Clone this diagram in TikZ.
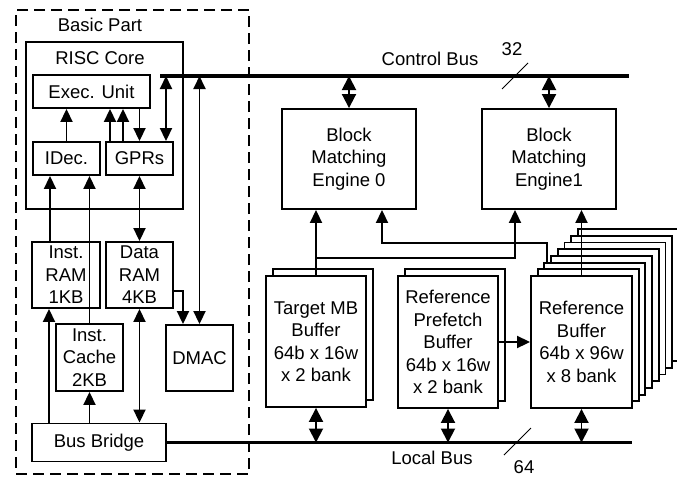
\documentclass[tikz,border=0pt]{standalone}
\usepackage{fontspec}
\setmainfont{Liberation Sans}
\usetikzlibrary{arrows.meta}
\begin{document}
\begin{tikzpicture}[x=1pt,y=-1pt,
  lbl/.style={font=\fontsize{18.5}{22.5}\selectfont, inner sep=0pt, align=center},
  box/.style={lbl, draw, line width=1.9pt, fill=white},
  layer/.style={draw, line width=1.9pt, fill=white, inner sep=0pt},
  dashbox/.style={draw, line width=1.9pt, dash pattern=on 11pt off 6pt, inner sep=0pt},
  conn/.style={line width=1.9pt},
  arr/.style={conn, -{Triangle[length=13pt,width=12pt]}},
  darr/.style={conn, {Triangle[length=13pt,width=12pt]}-{Triangle[length=13pt,width=12pt]}},
  busarr/.style={conn, {Triangle[length=14pt,width=14pt]}-{Triangle[length=14pt,width=14pt]}},
  bus/.style={line width=3.5pt},
  tick/.style={line width=0.9pt},
]
\useasboundingbox (0,0) rectangle (677,477);
\clip (0,0) rectangle (677,477);

% ---------- basic part ----------
\node[dashbox, minimum width=233, minimum height=464] (basic) at (132.5,242) {};
\node[lbl] (basictxt) at (100,25) {Basic Part};

\node[box, minimum width=157, minimum height=167] (risc) at (104.5,125.5) {};
\node[lbl] (risctxt) at (100,58) {RISC Core};

\node[box, minimum width=117, minimum height=33] (exec) at (91.5,91.5) {Exec. Unit};
\node[box, minimum width=67, minimum height=33] (idec) at (66.5,158.5) {IDec.};
\node[box, minimum width=67, minimum height=33] (gprs) at (139.5,158.5) {GPRs};

\node[box, minimum width=68, minimum height=66] (iram) at (66,275) {Inst.\\RAM\\1KB};
\node[box, minimum width=67, minimum height=66] (dram) at (139.5,275) {Data\\RAM\\4KB};
\node[box, minimum width=67, minimum height=67] (icache) at (89.5,357.5) {Inst.\\Cache\\2KB};
\node[box, minimum width=67, minimum height=66] (dmac) at (199.5,358) {DMAC};
\node[box, minimum width=134, minimum height=38] (bridge) at (99,442.5) {Bus Bridge};

% ---------- buses ----------
\coordinate (cbL) at (160,76);
\coordinate (cbR) at (629,76);
\coordinate (lbR) at (632,442.5);
\draw[bus] (cbL) -- (cbR);
\draw[bus] (bridge.east) -- (lbR);
\node[lbl] (cbtxt) at (430,59) {Control Bus};
\node[lbl] (cbw) at (512,49) {32};
\draw[tick] (502,89) -- (528,63);
\node[lbl] (lbtxt) at (432,458) {Local Bus};
\node[lbl] (lbw) at (524,467) {64};
\draw[tick] (504,455) -- (531,428);

% ---------- motion estimation part ----------
\node[box, minimum width=134, minimum height=100] (bme0) at (349,159) {Block\\Matching\\Engine 0};
\node[box, minimum width=134, minimum height=100] (bme1) at (549,159) {Block\\Matching\\Engine1};

\node[layer, minimum width=100, minimum height=131] (tmbb) at (322.7,334.8) {};
\node[box, minimum width=100, minimum height=131] (tmb) at (316,341.5) {Target MB\\Buffer\\64b x 16w\\x 2 bank};

\node[layer, minimum width=100, minimum height=132] (rpbb) at (454.7,335.3) {};
\node[box, minimum width=100, minimum height=132] (rpb) at (448,342) {Reference\\Prefetch\\Buffer\\64b x 16w\\x 2 bank};

\foreach \k in {7,6,...,1}
  \node[layer, minimum width=101, minimum height=132] (rb\k) at ({581.5+6.7*\k},{342-6.7*\k}) {};
\node[box, minimum width=101, minimum height=132] (rb) at (581.5,342) {Reference\\Buffer\\64b x 96w\\x 8 bank};

% ---------- connectors inside the RISC core ----------
\draw[arr] (idec.north) -- (idec.north |- exec.south);
\draw[arr] ([xshift=-29.5]gprs.north) -- ([xshift=-29.5]gprs.north |- exec.south);
\draw[arr] ([xshift=-16.5]gprs.north) -- ([xshift=-16.5]gprs.north |- exec.south);
\draw[arr] (gprs.north |- exec.south) -- (gprs.north);
\draw[darr] ([xshift=26.5]gprs.north) -- ([xshift=26.5]gprs.north |- cbL);

% ---------- memories ----------
\draw[arr] ([xshift=-16.5]idec.south |- iram.north) -- ([xshift=-16.5]idec.south);
\draw[arr] (icache.north) -- (icache.north |- idec.south);
\draw[darr] (gprs.south) -- (gprs.south |- dram.north);
\draw[arr] ([xshift=-50]bridge.north) -- ([xshift=-50]bridge.north |- iram.south);
\draw[arr] (icache.south |- bridge.north) -- (icache.south);
\draw[darr] (dram.south) -- (dram.south |- bridge.north);
\draw[arr] ([yshift=-16]dram.east) -| ([xshift=-16.5]dmac.north);
\draw[darr] (dmac.north) -- (dmac.north |- cbL);

% ---------- block matching engines ----------
\draw[busarr] (bme0.north |- cbL) -- (bme0.north);
\draw[busarr] (bme1.north |- cbL) -- (bme1.north);
\draw[arr] (tmb.north) -- (tmb.north |- bme0.south);
\draw[arr] ([yshift=17]tmb.north) -| ([xshift=-34]bme1.south);
\draw[arr] ([xshift=-48]rb2.north) |- ([xshift=33,yshift=-33]bme0.south) -- ([xshift=33]bme0.south);
\draw[arr] (rb.north) -- (rb.north |- bme1.south);
\draw[arr] (rpb.east) -- (rb.west);

% ---------- local bus ports ----------
\draw[busarr] (tmb.south) -- (tmb.south |- lbR);
\draw[busarr] (rpb.south) -- (rpb.south |- lbR);
\draw[busarr] (rb.south) -- (rb.south |- lbR);
\end{tikzpicture}
\end{document}
